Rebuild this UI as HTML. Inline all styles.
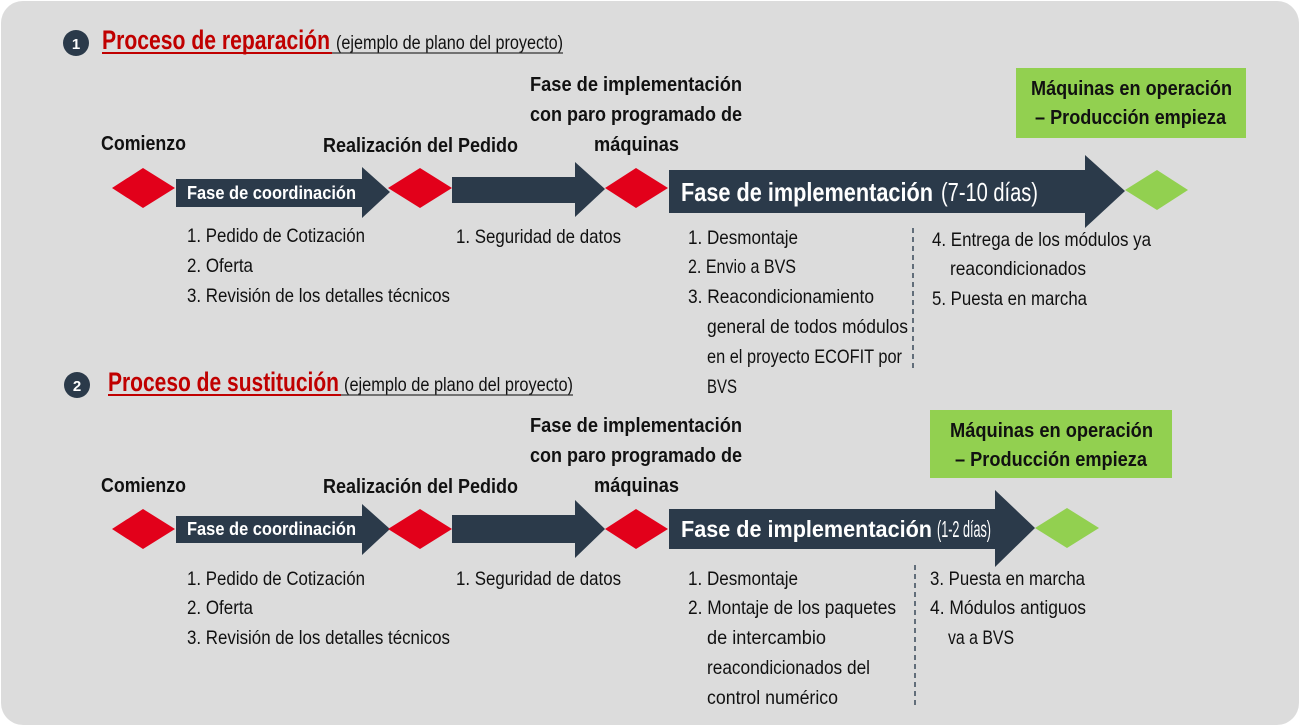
<!DOCTYPE html>
<html><head><meta charset="utf-8"><style>
html,body{margin:0;padding:0;background:#fff;}
svg{display:block;}
text{font-family:"Liberation Sans Narrow","Liberation Sans",sans-serif;}
.b{font-weight:bold;fill:#111;}
.n{fill:#111;}
.w{fill:#fff;font-weight:bold;}
</style></head><body>
<svg width="1300" height="726" viewBox="0 0 1300 726" xmlns="http://www.w3.org/2000/svg">
<rect x="1" y="1" width="1298" height="724" rx="22" fill="#dcdcdc"/>

<!-- Section 1 -->
<circle cx="76" cy="43" r="13" fill="#2b3a4a"/>
<text x="76" y="49" font-size="15" text-anchor="middle" class="w">1</text>
<text x="102" y="49" font-size="27" font-weight="bold" fill="#c00000" textLength="228" lengthAdjust="spacingAndGlyphs">Proceso de reparación</text>
<line x1="102" y1="53" x2="332" y2="53" stroke="#c00000" stroke-width="2"/>
<text x="336" y="49" font-size="19" class="n" textLength="227" lengthAdjust="spacingAndGlyphs">(ejemplo de plano del proyecto)</text>
<line x1="332" y1="53" x2="563" y2="53" stroke="#333" stroke-width="1.3"/>

<text x="101" y="150" font-size="20" class="b" textLength="85" lengthAdjust="spacingAndGlyphs">Comienzo</text>
<text x="323" y="152" font-size="20" class="b" textLength="195" lengthAdjust="spacingAndGlyphs">Realización del Pedido</text>
<text x="530" y="91" font-size="20" class="b" textLength="212" lengthAdjust="spacingAndGlyphs">Fase de implementación</text>
<text x="530" y="121" font-size="20" class="b" textLength="212" lengthAdjust="spacingAndGlyphs">con paro programado de</text>
<text x="594" y="151" font-size="20" class="b" textLength="85" lengthAdjust="spacingAndGlyphs">máquinas</text>

<rect x="1016" y="68" width="230" height="70" fill="#92d050"/>
<text x="1031" y="95" font-size="20" class="b" textLength="201" lengthAdjust="spacingAndGlyphs">Máquinas en operación</text>
<text x="1035" y="124" font-size="20" class="b" textLength="191" lengthAdjust="spacingAndGlyphs">– Producción empieza</text>

<polygon points="112,188 143,168 175,188 143,208" fill="#e2001a"/>
<polygon points="176,179 362,179 362,167 390,192 362,218 362,207 176,207" fill="#2b3a4a"/>
<text x="187" y="199" font-size="18" class="w" textLength="169" lengthAdjust="spacingAndGlyphs">Fase de coordinación</text>
<polygon points="388,188 420,168 452,188 420,208" fill="#e2001a"/>
<polygon points="452,177 575,177 575,162 605,189 575,217 575,203 452,203" fill="#2b3a4a"/>
<polygon points="605,188 636,168 668,188 636,208" fill="#e2001a"/>
<polygon points="669,170 1085,170 1085,155 1125,191 1085,228 1085,213 669,213" fill="#2b3a4a"/>
<text x="681" y="201" font-size="26" class="w" textLength="252" lengthAdjust="spacingAndGlyphs">Fase de implementación</text>
<text x="941" y="201" font-size="26" fill="#fff" textLength="97" lengthAdjust="spacingAndGlyphs">(7-10 días)</text>
<polygon points="1125,190 1157,170 1188,190 1157,210" fill="#92d050"/>

<g font-size="19.5">
<text x="187" y="242" class="n" textLength="178" lengthAdjust="spacingAndGlyphs">1. Pedido de Cotización</text>
<text x="187" y="272" class="n" textLength="66" lengthAdjust="spacingAndGlyphs">2. Oferta</text>
<text x="187" y="302" class="n" textLength="263" lengthAdjust="spacingAndGlyphs">3. Revisión de los detalles técnicos</text>
<text x="456" y="243" class="n" textLength="165" lengthAdjust="spacingAndGlyphs">1. Seguridad de datos</text>
<text x="688" y="244" class="n" textLength="110" lengthAdjust="spacingAndGlyphs">1. Desmontaje</text>
<text x="688" y="273" class="n" textLength="108" lengthAdjust="spacingAndGlyphs">2. Envio a BVS</text>
<text x="688" y="303" class="n" textLength="186" lengthAdjust="spacingAndGlyphs">3. Reacondicionamiento</text>
<text x="707" y="333" class="n" textLength="201" lengthAdjust="spacingAndGlyphs">general de todos módulos</text>
<text x="707" y="363" class="n" textLength="195" lengthAdjust="spacingAndGlyphs">en el proyecto ECOFIT por</text>
<text x="707" y="393" class="n" textLength="30" lengthAdjust="spacingAndGlyphs">BVS</text>
<text x="932" y="246" class="n" textLength="219" lengthAdjust="spacingAndGlyphs">4. Entrega de los módulos ya</text>
<text x="950" y="275" class="n" textLength="136" lengthAdjust="spacingAndGlyphs">reacondicionados</text>
<text x="932" y="305" class="n" textLength="155" lengthAdjust="spacingAndGlyphs">5. Puesta en marcha</text>
</g>
<line x1="913" y1="228" x2="913" y2="370" stroke="#3a4a5a" stroke-width="1.5" stroke-dasharray="5,4"/>

<!-- Section 2 -->
<circle cx="77" cy="385" r="13" fill="#2b3a4a"/>
<text x="77" y="391" font-size="15" text-anchor="middle" class="w">2</text>
<text x="108" y="391" font-size="27" font-weight="bold" fill="#c00000" textLength="231" lengthAdjust="spacingAndGlyphs">Proceso de sustitución</text>
<line x1="108" y1="395" x2="341" y2="395" stroke="#c00000" stroke-width="2"/>
<text x="344" y="391" font-size="19" class="n" textLength="229" lengthAdjust="spacingAndGlyphs">(ejemplo de plano del proyecto)</text>
<line x1="341" y1="395" x2="573" y2="395" stroke="#333" stroke-width="1.3"/>

<text x="101" y="492" font-size="20" class="b" textLength="85" lengthAdjust="spacingAndGlyphs">Comienzo</text>
<text x="323" y="493" font-size="20" class="b" textLength="195" lengthAdjust="spacingAndGlyphs">Realización del Pedido</text>
<text x="530" y="432" font-size="20" class="b" textLength="212" lengthAdjust="spacingAndGlyphs">Fase de implementación</text>
<text x="530" y="462" font-size="20" class="b" textLength="212" lengthAdjust="spacingAndGlyphs">con paro programado de</text>
<text x="594" y="492" font-size="20" class="b" textLength="85" lengthAdjust="spacingAndGlyphs">máquinas</text>

<rect x="930" y="410" width="242" height="68" fill="#92d050"/>
<text x="950" y="437" font-size="20" class="b" textLength="203" lengthAdjust="spacingAndGlyphs">Máquinas en operación</text>
<text x="955" y="466" font-size="20" class="b" textLength="192" lengthAdjust="spacingAndGlyphs">– Producción empieza</text>

<polygon points="112,529 143,509 175,529 143,549" fill="#e2001a"/>
<polygon points="176,516 362,516 362,504 390,529 362,555 362,543 176,543" fill="#2b3a4a"/>
<text x="187" y="535" font-size="18" class="w" textLength="169" lengthAdjust="spacingAndGlyphs">Fase de coordinación</text>
<polygon points="388,529 420,509 452,529 420,549" fill="#e2001a"/>
<polygon points="452,515 575,515 575,500 605,529 575,558 575,543 452,543" fill="#2b3a4a"/>
<polygon points="605,529 636,509 668,529 636,549" fill="#e2001a"/>
<polygon points="669,509 995,509 995,490 1035,528 995,567 995,549 669,549" fill="#2b3a4a"/>
<text x="681" y="537" font-size="23" class="w" textLength="251" lengthAdjust="spacingAndGlyphs">Fase de implementación</text>
<text x="937" y="537" font-size="23" fill="#fff" textLength="54" lengthAdjust="spacingAndGlyphs">(1-2 días)</text>
<polygon points="1035,528 1067,508 1099,528 1067,548" fill="#92d050"/>

<g font-size="19.5">
<text x="187" y="585" class="n" textLength="178" lengthAdjust="spacingAndGlyphs">1. Pedido de Cotización</text>
<text x="187" y="614" class="n" textLength="66" lengthAdjust="spacingAndGlyphs">2. Oferta</text>
<text x="187" y="644" class="n" textLength="263" lengthAdjust="spacingAndGlyphs">3. Revisión de los detalles técnicos</text>
<text x="456" y="585" class="n" textLength="165" lengthAdjust="spacingAndGlyphs">1. Seguridad de datos</text>
<text x="688" y="585" class="n" textLength="110" lengthAdjust="spacingAndGlyphs">1. Desmontaje</text>
<text x="688" y="614" class="n" textLength="208" lengthAdjust="spacingAndGlyphs">2. Montaje de los paquetes</text>
<text x="707" y="644" class="n" textLength="119" lengthAdjust="spacingAndGlyphs">de intercambio</text>
<text x="707" y="674" class="n" textLength="163" lengthAdjust="spacingAndGlyphs">reacondicionados del</text>
<text x="707" y="704" class="n" textLength="131" lengthAdjust="spacingAndGlyphs">control numérico</text>
<text x="930" y="585" class="n" textLength="155" lengthAdjust="spacingAndGlyphs">3. Puesta en marcha</text>
<text x="930" y="614" class="n" textLength="156" lengthAdjust="spacingAndGlyphs">4. Módulos antiguos</text>
<text x="948" y="644" class="n" textLength="66" lengthAdjust="spacingAndGlyphs">va a BVS</text>
</g>
<line x1="915" y1="565" x2="915" y2="705" stroke="#3a4a5a" stroke-width="1.5" stroke-dasharray="5,4"/>
</svg>
</body></html>
